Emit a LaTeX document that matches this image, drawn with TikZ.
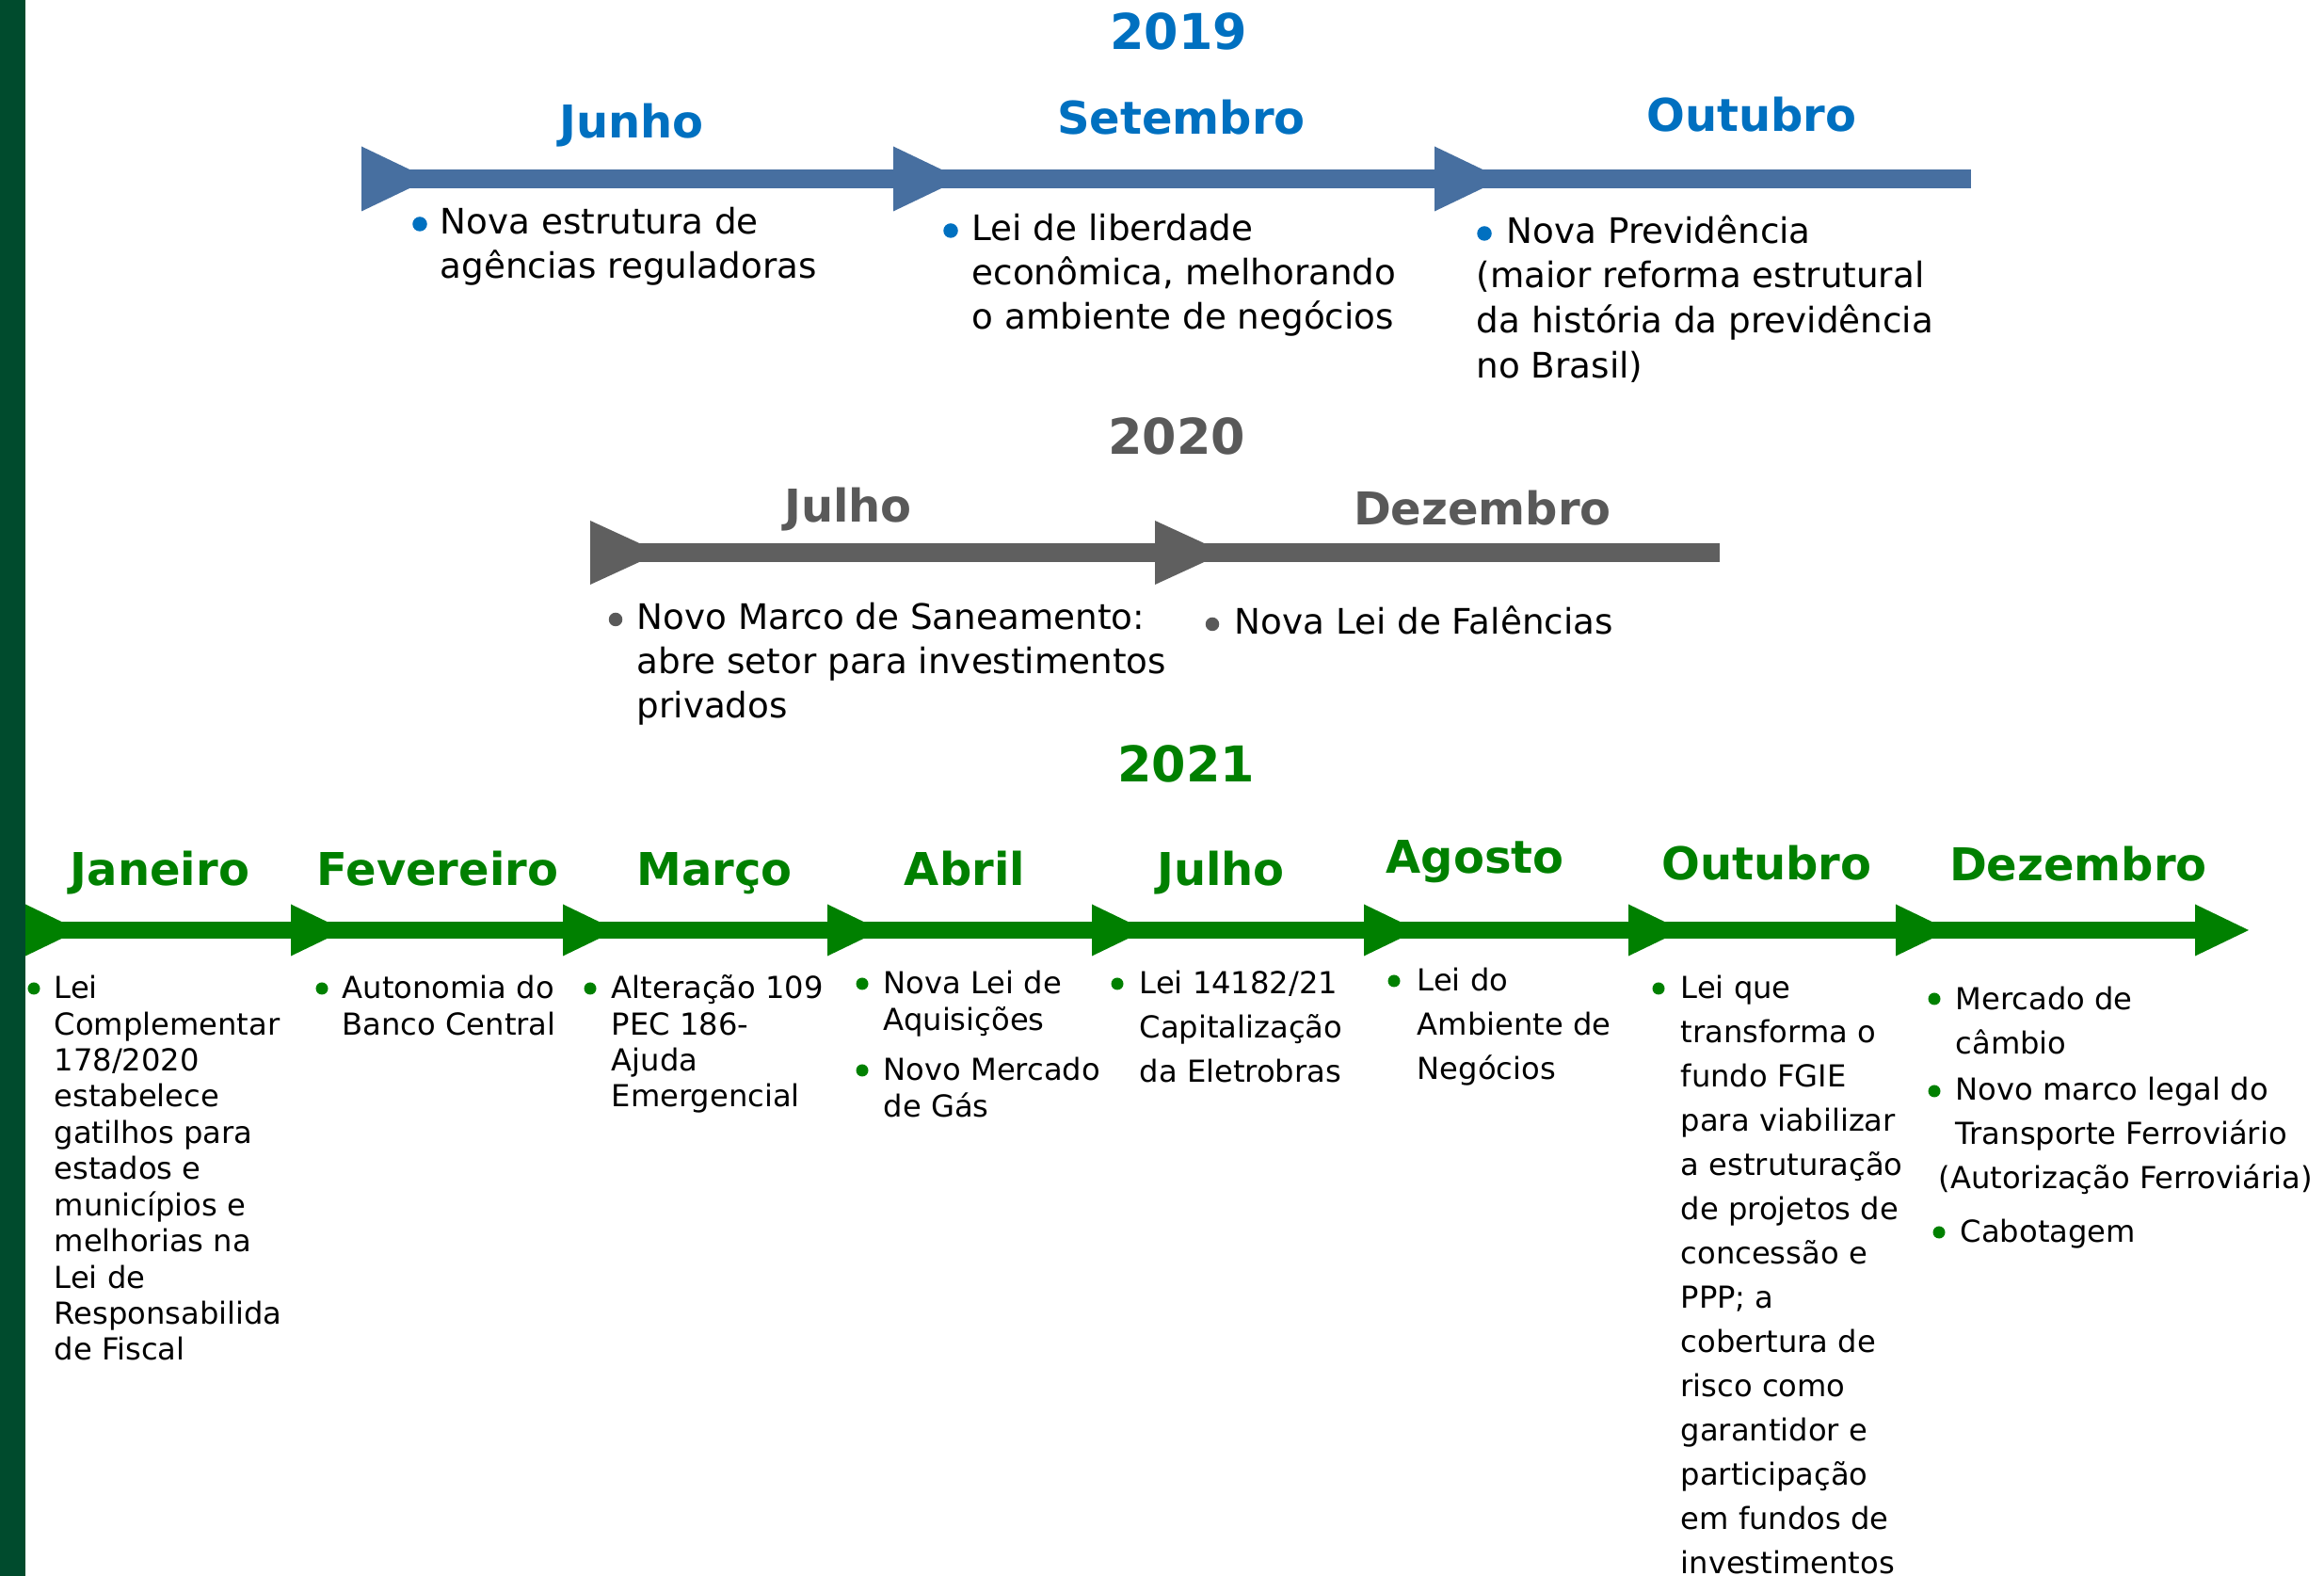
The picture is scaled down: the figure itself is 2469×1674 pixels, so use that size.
\documentclass[tikz,border=0pt]{standalone}
\usepackage{fontspec}
\setmainfont{DejaVu Sans}
\definecolor{blu}{RGB}{0,112,192}
\definecolor{steel}{RGB}{71,111,160}
\definecolor{gry}{RGB}{89,89,89}
\definecolor{gryline}{RGB}{95,95,95}
\definecolor{grn}{RGB}{0,128,0}
\definecolor{sidebar}{RGB}{0,75,45}
\newcommand\fbodyA{\fontsize{10.6pt}{13.37pt}\selectfont}
\newcommand\fbodyAw{\fontsize{10.6pt}{13.6pt}\selectfont}
\newcommand\fbodyB{\fontsize{9.15pt}{10.93pt}\selectfont}
\newcommand\fbodyC{\fontsize{9.15pt}{13.37pt}\selectfont}
\newcommand\fmonth{\fontsize{13.65pt}{16pt}\selectfont\bfseries}
\newcommand\fyear{\fontsize{14.9pt}{18pt}\selectfont\bfseries}
\begin{document}
\begin{tikzpicture}[x=0.01cm,y=-0.01cm,
  yearlbl/.style={anchor=base,inner sep=0,font=\fyear},
  monthlbl/.style={anchor=base,inner sep=0,font=\fmonth},
  txtA/.style={anchor=north west,inner sep=0,align=left,font=\fbodyA},
  txtAw/.style={anchor=north west,inner sep=0,align=left,font=\fbodyAw},
  txtB/.style={anchor=north west,inner sep=0,align=left,font=\fbodyB},
  txtC/.style={anchor=north west,inner sep=0,align=left,font=\fbodyC},
  bul/.style={circle,inner sep=0,minimum size=0.13cm},
  bulbig/.style={circle,inner sep=0,minimum size=0.155cm}]
\useasboundingbox (0,0) rectangle (2469,1674);
% ---------- 2019 ----------
\draw[steel,line width=0.2cm] (384,190) -- (2094,190);
\foreach \bx in {384,949,1524}
  \fill[steel] (\bx,155.5) -- ++(72,34.5) -- ++(-72,34.5) -- cycle;
\node[yearlbl,blu] (y19) at (1252,53) {2019};
\node[monthlbl,blu] (m19a) at (671,147) {Junho};
\node[monthlbl,blu] (m19b) at (1255,143) {Setembro};
\node[monthlbl,blu] (m19c) at (1861,140) {Outubro};
\node[bulbig,fill=blu] (b19a) at (446,238) {};
\node[txtA] (t19a) at (467,215) {\strut Nova estrutura de\\agências reguladoras};
\node[bulbig,fill=blu] (b19b) at (1010,245) {};
\node[txtA] (t19b) at (1032,222) {\strut Lei de liberdade\\econômica, melhorando\\o ambiente de negócios};
\node[bulbig,fill=blu] (b19c) at (1577,248) {};
\node[txtAw] (t19c) at (1568,224) {\strut\hspace*{0.32cm}Nova Previdência\\(maior reforma estrutural\\da história da previdência\\no Brasil)};
% ---------- 2020 ----------
\draw[gryline,line width=0.2cm] (627,587) -- (1827,587);
\foreach \bx in {627,1227}
  \fill[gryline] (\bx,553) -- ++(74,34) -- ++(-74,34) -- cycle;
\node[yearlbl,gry] (y20) at (1250,483) {2020};
\node[monthlbl,gry] (m20a) at (901,555) {Julho};
\node[monthlbl,gry] (m20b) at (1575,558) {Dezembro};
\node[bulbig,fill=gry,minimum size=0.145cm] (b20a) at (654,658) {};
\node[txtA] (t20a) at (676,635) {\strut Novo Marco de Saneamento:\\abre setor para investimentos\\privados};
\node[bulbig,fill=gry,minimum size=0.145cm] (b20b) at (1288,663) {};
\node[txtA] (t20b) at (1311,640) {\strut Nova Lei de Falências};
% ---------- 2021 ----------
\draw[grn,line width=0.18cm] (27,988) -- (2340,988);
\foreach \bx in {27,309,598,879,1160,1449,1730,2014}
  \fill[grn] (\bx,960.5) -- ++(57,27.5) -- ++(-57,27.5) -- cycle;
\fill[grn] (2332,960.5) -- ++(57,27.5) -- ++(-57,27.5) -- cycle;
\node[yearlbl,grn] (y21) at (1260,831) {2021};
\node[monthlbl,grn] (m21a) at (170,941) {Janeiro};
\node[monthlbl,grn] (m21b) at (465,941) {Fevereiro};
\node[monthlbl,grn] (m21c) at (759,941) {Março};
\node[monthlbl,grn] (m21d) at (1025,941) {Abril};
\node[monthlbl,grn] (m21e) at (1297,941) {Julho};
\node[monthlbl,grn] (m21f) at (1567,928) {Agosto};
\node[monthlbl,grn] (m21g) at (1877,935) {Outubro};
\node[monthlbl,grn] (m21h) at (2208,936) {Dezembro};
\node[bul,fill=grn] (b21a) at (36,1050) {};
\node[txtB] (t21a) at (57,1033) {\strut Lei\\Complementar\\178/2020\\estabelece\\gatilhos para\\estados e\\municípios e\\melhorias na\\Lei de\\Responsabilida\\de Fiscal};
\node[bul,fill=grn] (b21b) at (342,1050) {};
\node[txtB] (t21b) at (363,1033) {\strut Autonomia do\\Banco Central};
\node[bul,fill=grn] (b21c) at (627,1050) {};
\node[txtB] (t21c) at (649,1033) {\strut Alteração 109\\PEC 186-\\Ajuda\\Emergencial};
\node[bul,fill=grn] (b21d) at (916,1045) {};
\node[txtB] (t21d) at (938,1028) {\strut Nova Lei de\\Aquisições};
\node[bul,fill=grn] (b21e) at (916,1137) {};
\node[txtB] (t21e) at (938,1120) {\strut Novo Mercado\\de Gás};
\node[bul,fill=grn] (b21f) at (1187,1045) {};
\node[txtC] (t21f) at (1210,1022) {\strut Lei 14182/21\\Capitalização\\da Eletrobras};
\node[bul,fill=grn] (b21g) at (1481,1042) {};
\node[txtC] (t21g) at (1505,1019) {\strut Lei do\\Ambiente de\\Negócios};
\node[bul,fill=grn] (b21h) at (1762,1050) {};
\node[txtC] (t21h) at (1785,1027) {\strut Lei que\\transforma o\\fundo FGIE\\para viabilizar\\a estruturação\\de projetos de\\concessão e\\PPP; a\\cobertura de\\risco como\\garantidor e\\participação\\em fundos de\\investimentos};
\node[bul,fill=grn] (b21i) at (2055,1061) {};
\node[txtC] (t21i) at (2077,1039) {\strut Mercado de\\câmbio};
\node[bul,fill=grn] (b21j) at (2055,1159) {};
\node[txtC] (t21j) at (2059,1135) {\strut\hspace*{0.18cm}Novo marco legal do\\\hspace*{0.18cm}Transporte Ferroviário\\(Autorização Ferroviária)};
\node[bul,fill=grn] (b21k) at (2060,1309) {};
\node[txtC] (t21k) at (2082,1286) {\strut Cabotagem};
% left bar
\fill[sidebar] (0,0) rectangle (27,1674);
\end{tikzpicture}
\end{document}
